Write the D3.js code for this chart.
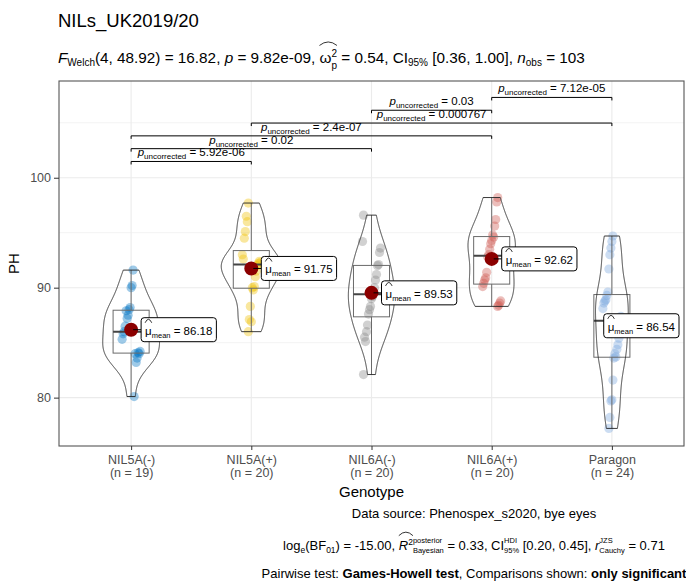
<!DOCTYPE html>
<html>
<head>
<meta charset="utf-8">
<script src="https://cdn.jsdelivr.net/npm/d3@7"></script>
<style>
  body { margin: 0; background: #fff; }
  text { font-family: "Liberation Sans", Arial, sans-serif; white-space: pre; }
</style>
</head>
<body>
<svg id="chart" width="686" height="582"></svg>
<script>
// groups on the x axis
var categories = ["NIL5A(-)", "NIL5A(+)", "NIL6A(-)", "NIL6A(+)", "Paragon"];

// PH values per genotype
var nil5aMinus = [91.6, 90.2, 90.0, 88.2, 88.0, 87.5, 87.2, 87.9, 86.5, 86.0, 85.8, 85.3, 84.2, 84.0, 84.1, 83.6, 83.2, 84.0, 80.1];
var nil5aPlus = [97.7, 96.0, 96.5, 95.1, 94.5, 92.6, 93.0, 92.3, 92.4, 92.2, 92.0, 91.5, 91.0, 90.1, 89.8, 90.0, 86.9, 88.3, 87.1, 86.0];
var nil6aMinus = [96.6, 94.2, 93.6, 93.2, 92.1, 92.0, 91.2, 90.7, 90.0, 89.6, 89.2, 89.0, 88.3, 88.0, 87.6, 86.6, 86.0, 85.1, 85.5, 82.1];
var nil6aPlus = [98.2, 97.8, 96.2, 95.6, 94.6, 94.8, 94.3, 94.0, 93.5, 93.0, 92.8, 91.4, 90.9, 90.7, 90.4, 90.1, 88.8, 88.6, 88.4, 88.3];
var paragon = [94.7, 94.2, 93.6, 93.0, 91.7, 89.6, 89.3, 88.9, 88.8, 88.6, 88.1, 87.4, 86.6, 85.4, 84.8, 84.4, 83.7, 84.0, 83.6, 81.6, 79.8, 79.7, 78.2, 77.2];

var yTicks = [80, 90, 100];
var yMinorTicks = [85, 95, 105];

// significant pairwise comparisons: group a, group b, p
var compA = ["NIL5A(-)", "NIL5A(-)", "NIL5A(-)", "NIL5A(+)", "NIL6A(-)", "NIL6A(+)"];
var compB = ["NIL5A(+)", "NIL6A(-)", "NIL6A(+)", "Paragon", "NIL6A(+)", "Paragon"];
var compP = ["5.92e-06", "0.02", "2.4e-07", "0.000767", "0.03", "7.12e-05"];

var titleText = "NILs_UK2019/20";
var captionSource = "Data source: Phenospex_s2020, bye eyes";

var groups = [nil5aMinus, nil5aPlus, nil6aMinus, nil6aPlus, paragon];
var colors = ["#0073C2", "#EFC000", "#868686", "#CD534C", "#7AA6DC"];

var svg = d3.select("#chart");
var panel = {left: 59, right: 684, top: 81, bottom: 446};

var x = d3.scalePoint()
    .domain(categories)
    .range([panel.left, panel.right])
    .padding(0.6);
var step = x.step();

var y = d3.scaleLinear()
    .domain([75.6, 108.8])
    .range([panel.bottom, panel.top]);

// text measuring for the plotmath-like labels
var ctx = document.createElement("canvas").getContext("2d");
function measure(t, size, italic, bold) {
    ctx.font = (italic ? "italic " : "") + (bold ? "bold " : "") + size + "px 'Liberation Sans'";
    return ctx.measureText(t).width;
}

// lays out runs of text left to right; a run can be a stack of super/sub
function rich(g, x0, y0, parts, anchor, base) {
    var total = 0;
    parts.forEach(function (p) {
        var runs = p.stack || [p];
        runs.forEach(function (q) { q.s = q.s || base; });
        p.w = d3.max(runs, function (q) { return measure(q.t, q.s, q.i, q.b); });
        total += p.w;
    });
    var cx = anchor === "middle" ? x0 - total / 2 : (anchor === "end" ? x0 - total : x0);
    parts.forEach(function (p) {
        p.x = cx;
        (p.stack || [p]).forEach(function (q) {
            g.append("text")
                .attr("x", cx).attr("y", y0 + (q.dy || 0))
                .attr("font-size", q.s)
                .attr("font-style", q.i ? "italic" : null)
                .attr("font-weight", q.b ? "bold" : null)
                .attr("fill", "#000")
                .text(q.t);
        });
        cx += p.w;
    });
    parts.forEach(function (p, k) {
        if (p.hat) {
            var x1 = p.x;
            for (var j = 0; j < p.hat; j++) x1 += parts[k + j].w;
            var top = y0 - (p.s || base) * 0.95 - (p.hatLift || 0);
            g.append("path")
                .attr("d", "M" + p.x + "," + top + " Q" + ((p.x + x1) / 2) + "," + (top - 7) + " " + x1 + "," + top)
                .attr("fill", "none").attr("stroke", "#000").attr("stroke-width", 0.8);
        }
    });
    return total;
}

// grid
var grid = svg.append("g");
grid.selectAll(".minor").data(yMinorTicks).enter().append("line")
    .attr("x1", panel.left).attr("x2", panel.right)
    .attr("y1", function (d) { return y(d); }).attr("y2", function (d) { return y(d); })
    .attr("stroke", "#F3F3F3").attr("stroke-width", 1);
grid.selectAll(".major").data(yTicks).enter().append("line")
    .attr("x1", panel.left).attr("x2", panel.right)
    .attr("y1", function (d) { return y(d); }).attr("y2", function (d) { return y(d); })
    .attr("stroke", "#EBEBEB").attr("stroke-width", 1.1);
grid.selectAll(".vmajor").data(categories).enter().append("line")
    .attr("x1", function (d) { return x(d); }).attr("x2", function (d) { return x(d); })
    .attr("y1", panel.top).attr("y2", panel.bottom)
    .attr("stroke", "#EBEBEB").attr("stroke-width", 1.1);

// jittered points
function jitter(i) { return (((i * 37 + 11) % 19) / 18 * 2 - 1) * 9; }
var pts = svg.append("g");
groups.forEach(function (vals, gi) {
    pts.selectAll(".p" + gi).data(vals).enter().append("circle")
        .attr("cx", function (d, i) { return x(categories[gi]) + jitter(i + gi * 5); })
        .attr("cy", function (d) { return y(d); })
        .attr("r", 4.6)
        .attr("fill", colors[gi])
        .attr("fill-opacity", 0.38);
});

// boxplots
var boxW = 0.3 * step;
var boxes = svg.append("g").attr("stroke", "#6a6a6a").attr("fill", "none");
groups.forEach(function (vals, gi) {
    var s = vals.slice().sort(d3.ascending);
    var q1 = d3.quantile(s, 0.25), q2 = d3.quantile(s, 0.5), q3 = d3.quantile(s, 0.75);
    var iqr = q3 - q1;
    var lo = d3.min(s.filter(function (v) { return v >= q1 - 1.5 * iqr; }));
    var hi = d3.max(s.filter(function (v) { return v <= q3 + 1.5 * iqr; }));
    var cx = x(categories[gi]);
    boxes.append("line").attr("x1", cx).attr("x2", cx).attr("y1", y(hi)).attr("y2", y(q3)).attr("stroke-width", 1);
    boxes.append("line").attr("x1", cx).attr("x2", cx).attr("y1", y(q1)).attr("y2", y(lo)).attr("stroke-width", 1);
    boxes.append("rect").attr("x", cx - boxW / 2).attr("y", y(q3))
        .attr("width", boxW).attr("height", y(q1) - y(q3)).attr("stroke-width", 1);
    boxes.append("line").attr("x1", cx - boxW / 2).attr("x2", cx + boxW / 2)
        .attr("y1", y(q2)).attr("y2", y(q2)).attr("stroke-width", 2).attr("stroke", "#444");
});

// violins (gaussian kde, nrd0 bandwidth, trimmed, scaled by area)
function bwNrd0(v) {
    var s = v.slice().sort(d3.ascending);
    var hi = d3.deviation(s);
    var lo = Math.min(hi, (d3.quantile(s, 0.75) - d3.quantile(s, 0.25)) / 1.34);
    return 0.9 * lo * Math.pow(s.length, -0.2);
}
var dens = groups.map(function (vals) {
    var h = bwNrd0(vals), mn = d3.min(vals), mx = d3.max(vals);
    return d3.range(0, 512).map(function (k) {
        var yy = mn + (mx - mn) * k / 511;
        var d = d3.sum(vals, function (v) {
            var u = (yy - v) / h;
            return Math.exp(-0.5 * u * u);
        }) / (vals.length * h * Math.sqrt(2 * Math.PI));
        return [yy, d];
    });
});
var maxDens = d3.max(dens, function (ds) { return d3.max(ds, function (d) { return d[1]; }); });
var vHalf = 0.25 * step;
var violins = svg.append("g");
dens.forEach(function (ds, gi) {
    var cx = x(categories[gi]);
    var outline = ds.map(function (d) { return [cx + d[1] / maxDens * vHalf, y(d[0])]; })
        .concat(ds.slice().reverse().map(function (d) { return [cx - d[1] / maxDens * vHalf, y(d[0])]; }));
    violins.append("path")
        .attr("d", d3.line()(outline) + "Z")
        .attr("fill", "none").attr("stroke", "#222").attr("stroke-width", 0.9);
});

// panel border
svg.append("rect")
    .attr("x", panel.left).attr("y", panel.top)
    .attr("width", panel.right - panel.left).attr("height", panel.bottom - panel.top)
    .attr("fill", "none").attr("stroke", "#555").attr("stroke-width", 1.1);

// axes
var yAxis = svg.append("g")
    .attr("transform", "translate(" + panel.left + ",0)")
    .call(d3.axisLeft(y).tickValues(yTicks).tickSize(5).tickPadding(3));
yAxis.select(".domain").remove();
yAxis.selectAll("line").attr("stroke", "#333");
yAxis.selectAll("text").attr("font-size", 12.5).attr("fill", "#4D4D4D")
    .attr("font-family", "Liberation Sans, Arial, sans-serif");

var xAxis = svg.append("g")
    .attr("transform", "translate(0," + panel.bottom + ")")
    .call(d3.axisBottom(x).tickSize(4).tickFormat(""));
xAxis.select(".domain").remove();
xAxis.selectAll("line").attr("stroke", "#333");
xAxis.selectAll(".tick").each(function (d, i) {
    var t = d3.select(this).append("text")
        .attr("fill", "#4D4D4D").attr("font-size", 12.5)
        .attr("font-family", "Liberation Sans, Arial, sans-serif")
        .attr("text-anchor", "middle");
    t.append("tspan").attr("x", 0).attr("y", 18).text(d);
    t.append("tspan").attr("x", 0).attr("y", 31).text("(n = " + groups[i].length + ")");
});

svg.append("text")
    .attr("x", (panel.left + panel.right) / 2).attr("y", 497)
    .attr("text-anchor", "middle").attr("font-size", 15)
    .text("Genotype");
svg.append("text")
    .attr("transform", "translate(19," + ((panel.top + panel.bottom) / 2) + ") rotate(-90)")
    .attr("text-anchor", "middle").attr("font-size", 15)
    .text("PH");

// significance brackets
var brackets = svg.append("g");
compA.forEach(function (a, i) {
    var x1 = x(a), x2 = x(compB[i]);
    var yy = y(101.48 + i * 1.165);
    brackets.append("path")
        .attr("d", "M" + x1 + "," + (yy + 3) + "V" + yy + "H" + x2 + "V" + (yy + 3))
        .attr("fill", "none").attr("stroke", "#000").attr("stroke-width", 1);
    rich(brackets, (x1 + x2) / 2, yy - 5, [
        {t: "p", i: true},
        {t: "uncorrected", s: 8, dy: 3},
        {t: " = " + compP[i]}
    ], "middle", 11.5);
});

// means with repelled labels
var fmt = d3.format(".2f");
var meanG = svg.append("g");
var labelG = svg.append("g");
groups.forEach(function (vals, gi) {
    var m = d3.mean(vals);
    var cx = x(categories[gi]), cy = y(m);
    meanG.append("circle").attr("cx", cx).attr("cy", cy).attr("r", 7).attr("fill", "#8B0000");
    var parts = [
        {t: "\u03bc", hat: 1, hatLift: 1},
        {t: "mean", s: 7.5, dy: 3},
        {t: " = " + fmt(m)}
    ];
    var w = d3.sum(parts, function (p) { return measure(p.t, p.s || 11.5); }) + 8;
    var h = 24;
    var lx = Math.min(cx + 10, panel.right - 5 - w);
    var g = labelG.append("g");
    g.append("line").attr("x1", cx + 2).attr("x2", lx).attr("y1", cy).attr("y2", cy)
        .attr("stroke", "#000").attr("stroke-width", 1);
    g.append("rect").attr("x", lx).attr("y", cy - h / 2).attr("width", w).attr("height", h)
        .attr("rx", 3).attr("fill", "#fff").attr("stroke", "#000").attr("stroke-width", 1);
    rich(g, lx + 4, cy + 5, parts, "start", 11.5);
});

// title and subtitle
svg.append("text").attr("x", 58).attr("y", 27).attr("font-size", 18.5).text(titleText);
var sub = svg.append("g");
rich(sub, 58, 63, [
    {t: "F", i: true},
    {t: "Welch", s: 10, dy: 3},
    {t: "(4, 48.92) = 16.82, "},
    {t: "p", i: true},
    {t: " = 9.82e-09, "},
    {t: "\u03c9", hat: 2, hatLift: 3},
    {stack: [{t: "2", s: 10, dy: -6}, {t: "p", s: 10, dy: 6}]},
    {t: " = 0.54, CI"},
    {t: "95%", s: 10, dy: 3},
    {t: " [0.36, 1.00], "},
    {t: "n", i: true},
    {t: "obs", s: 10, dy: 3},
    {t: " = 103"}
], "start", 15.3);

// caption block
var cap = svg.append("g");
var capX = 474;
rich(cap, capX, 518, [{t: captionSource}], "middle", 13);
rich(cap, capX, 550, [
    {t: "log"},
    {t: "e", s: 8.5, dy: 3},
    {t: "(BF"},
    {t: "01", s: 8.5, dy: 3},
    {t: ") = -15.00, "},
    {t: "R", i: true, hat: 2, hatLift: 2},
    {t: "2", s: 8.5, dy: -5},
    {stack: [{t: "posterior", s: 7.5, dy: -7}, {t: "Bayesian", s: 7.5, dy: 3}]},
    {t: " = 0.33, CI"},
    {stack: [{t: "HDI", s: 7.5, dy: -7}, {t: "95%", s: 7.5, dy: 3}]},
    {t: " [0.20, 0.45], "},
    {t: "r", i: true},
    {stack: [{t: "JZS", s: 7.5, dy: -7}, {t: "Cauchy", s: 7.5, dy: 3}]},
    {t: " = 0.71"}
], "middle", 13);
rich(cap, capX, 578, [
    {t: "Pairwise test: "},
    {t: "Games-Howell test", b: true},
    {t: ", Comparisons shown: "},
    {t: "only significant", b: true}
], "middle", 13);
</script>
</body>
</html>
